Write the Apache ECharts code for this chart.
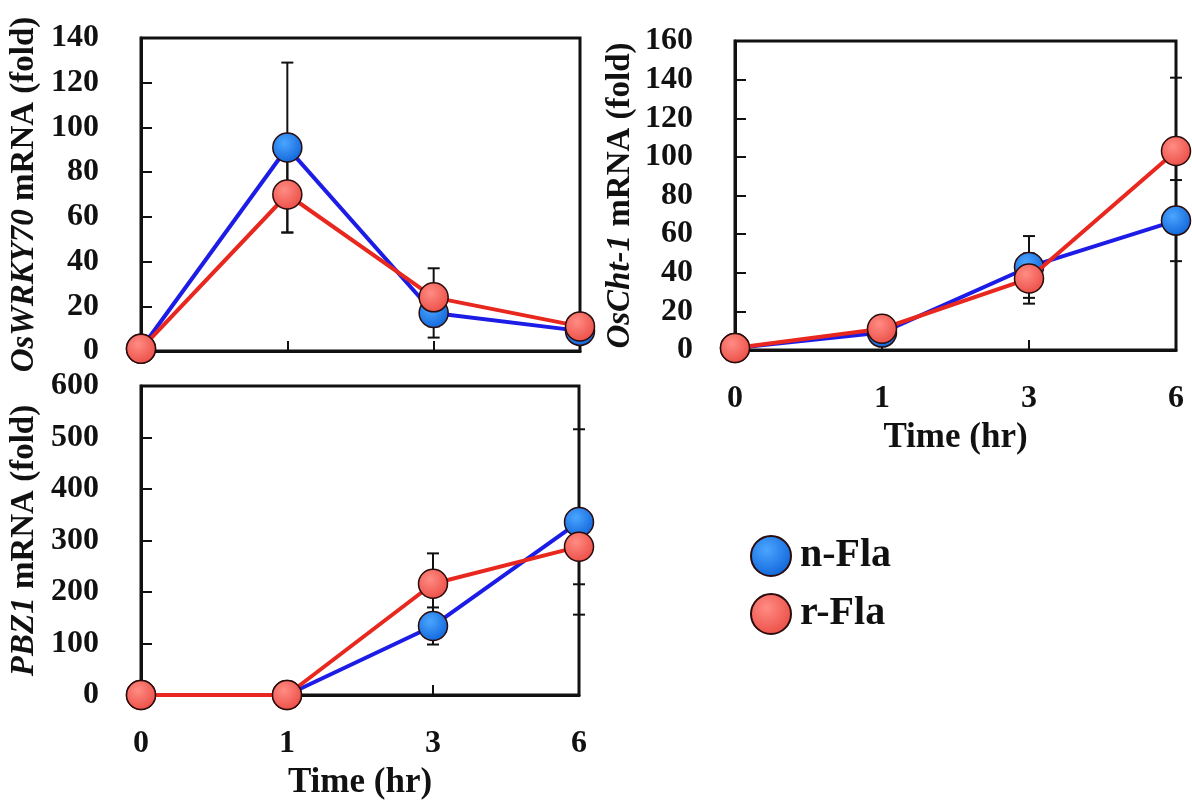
<!DOCTYPE html>
<html>
<head>
<meta charset="utf-8">
<script src="https://cdn.jsdelivr.net/npm/echarts@6/dist/echarts.min.js"></script>
<style>
  html, body { margin: 0; padding: 0; background: #fff; }
  #chart { width: 1192px; height: 801px; }
</style>
</head>
<body>
<div id="chart"></div>
<script>
// time points (category axis, evenly spaced)
const times = ['0', '1', '3', '6']

// OsWRKY70
const wrkyN = [1, 91, 17, 9]
const wrkyR = [1, 70, 24, 11]
const wrkyNErr = [0, 38, 11, 2]
const wrkyRErr = [0, 17, 13, 2]

// OsCht-1
const chtN = [1, 9, 43, 67]
const chtR = [1, 11, 37, 103]
const chtNErr = [0, 1, 16, 21]
const chtRErr = [0, 1, 13, 38]

// PBZ1
const pbzN = [0, 0, 134, 336]
const pbzR = [0, 0, 216, 288]
const pbzNErr = [0, 0, 36, 180]
const pbzRErr = [0, 0, 59, 73]

const FONT = '"Liberation Serif", "Times New Roman", serif'
const INK = '#111'

const blueFill = {
  type: 'radial', x: 0.4, y: 0.35, r: 0.75,
  colorStops: [{ offset: 0, color: '#4aa6ff' }, { offset: 1, color: '#0b5ed6' }]
}
const redFill = {
  type: 'radial', x: 0.4, y: 0.35, r: 0.75,
  colorStops: [{ offset: 0, color: '#ff8c84' }, { offset: 1, color: '#e9473f' }]
}

function xAxis (idx, showLabels) {
  return {
    type: 'category',
    gridIndex: idx,
    data: times,
    boundaryGap: false,
    name: showLabels ? 'Time (hr)' : '',
    nameLocation: 'middle',
    nameGap: 70,
    nameTextStyle: { fontFamily: FONT, fontWeight: 'bold', fontSize: 35, color: INK },
    axisLine: { lineStyle: { color: INK, width: 3 } },
    axisTick: { inside: true, length: 10, lineStyle: { color: INK, width: 2 } },
    axisLabel: {
      show: showLabels,
      margin: 33,
      fontFamily: FONT, fontWeight: 'bold', fontSize: 32, color: INK
    },
    splitLine: { show: false }
  }
}

function yAxis (idx, max, interval, italicPart, gap) {
  return {
    type: 'value',
    gridIndex: idx,
    min: 0,
    max: max,
    interval: interval,
    name: '{i|' + italicPart + '} mRNA (fold)',
    nameLocation: 'middle',
    nameRotate: 90,
    nameGap: gap,
    nameTextStyle: {
      fontFamily: FONT, fontWeight: 'bold', fontSize: 33, color: INK,
      rich: { i: { fontFamily: FONT, fontWeight: 'bold', fontStyle: 'italic', fontSize: 33, color: INK } }
    },
    axisLine: { show: true, lineStyle: { color: INK, width: 3 } },
    axisTick: { show: true, inside: true, length: 11, lineStyle: { color: INK, width: 2 } },
    axisLabel: { margin: 42, fontFamily: FONT, fontWeight: 'bold', fontSize: 32, color: INK },
    splitLine: { show: false }
  }
}

function lineSeries (name, idx, data, fill, lineColor, z) {
  return {
    name: name,
    type: 'line',
    xAxisIndex: idx,
    yAxisIndex: idx,
    data: data,
    z: z,
    symbol: 'circle',
    symbolSize: 29,
    lineStyle: { color: lineColor, width: 4 },
    itemStyle: { color: fill, borderColor: '#2a0c0c', borderWidth: 1.5 },
    emphasis: { disabled: true }
  }
}

// error bars drawn as a custom series (vertical line + caps)
function errSeries (idx, vals, errs) {
  return {
    type: 'custom',
    xAxisIndex: idx,
    yAxisIndex: idx,
    z: 1,
    silent: true,
    data: vals.map((v, i) => [i, v - errs[i], v + errs[i]]),
    encode: { x: 0, y: [1, 2] },
    renderItem (params, api) {
      const lo = api.coord([api.value(0), api.value(1)])
      const hi = api.coord([api.value(0), api.value(2)])
      const w = 6
      const st = { stroke: INK, lineWidth: 2 }
      return {
        type: 'group',
        children: [
          { type: 'line', shape: { x1: lo[0], y1: lo[1], x2: hi[0], y2: hi[1] }, style: st },
          { type: 'line', shape: { x1: lo[0] - w, y1: lo[1], x2: lo[0] + w, y2: lo[1] }, style: st },
          { type: 'line', shape: { x1: hi[0] - w, y1: hi[1], x2: hi[0] + w, y2: hi[1] }, style: st }
        ]
      }
    }
  }
}

const gridBox = { show: true, borderColor: INK, borderWidth: 3, backgroundColor: 'transparent' }

const option = {
  backgroundColor: '#fff',
  animation: false,
  grid: [
    Object.assign({ left: 141, top: 38, width: 439, height: 313 }, gridBox),
    Object.assign({ left: 735, top: 41, width: 441, height: 309 }, gridBox),
    Object.assign({ left: 141, top: 386, width: 438, height: 312 }, gridBox)
  ],
  xAxis: [xAxis(0, false), xAxis(1, true), xAxis(2, true)],
  yAxis: [
    yAxis(0, 140, 20, 'OsWRKY70', 100),
    yAxis(1, 160, 20, 'OsCht-1', 98),
    yAxis(2, 600, 100, 'PBZ1', 100)
  ],
  legend: {
    data: ['n-Fla', 'r-Fla'],
    orient: 'vertical',
    left: 745,
    top: 530,
    icon: 'circle',
    itemWidth: 40,
    itemHeight: 40,
    itemGap: 16,
    textStyle: { fontFamily: FONT, fontWeight: 'bold', fontSize: 40, color: INK, padding: [0, 0, 0, 4] }
  },
  series: [
    errSeries(0, wrkyN, wrkyNErr),
    errSeries(0, wrkyR, wrkyRErr),
    lineSeries('n-Fla', 0, wrkyN, blueFill, '#1c1ce6', 3),
    lineSeries('r-Fla', 0, wrkyR, redFill, '#e8281e', 4),

    errSeries(1, chtN, chtNErr),
    errSeries(1, chtR, chtRErr),
    lineSeries('n-Fla', 1, chtN, blueFill, '#1c1ce6', 3),
    lineSeries('r-Fla', 1, chtR, redFill, '#e8281e', 4),

    errSeries(2, pbzN, pbzNErr),
    errSeries(2, pbzR, pbzRErr),
    lineSeries('n-Fla', 2, pbzN, blueFill, '#1c1ce6', 3),
    lineSeries('r-Fla', 2, pbzR, redFill, '#e8281e', 4)
  ]
}

const myChart = echarts.init(document.getElementById('chart'))
myChart.setOption(option)
</script>
</body>
</html>
